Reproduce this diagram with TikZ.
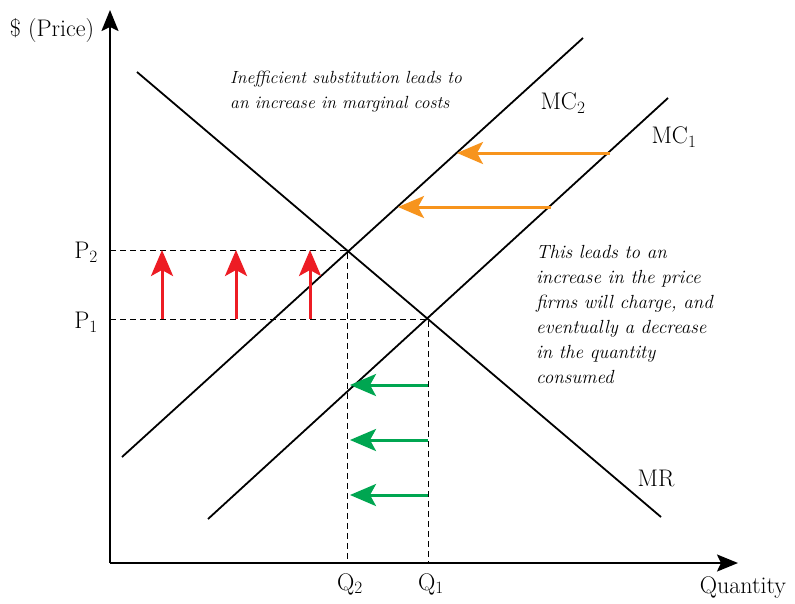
\documentclass[tikz,border=0pt]{standalone}
\usepackage{amsmath}
\usepackage{xcolor}
\usepackage{tikz}
\usetikzlibrary{arrows.meta}
\definecolor{shiftred}{RGB}{237,28,36}
\definecolor{shiftgreen}{RGB}{0,166,81}
\definecolor{shiftorange}{RGB}{247,148,29}
\tikzset{axis/.style = {line width=2pt, -{Stealth[length=21pt, width=17pt, inset=4pt]}},
         curve/.style = {line width=1.8pt},
         guide/.style = {line width=1pt, dash pattern=on 6pt off 4pt},
         shiftarrow/.style = {line width=3pt, -{Stealth[length=26pt, width=22pt, inset=6pt]}},
         lab/.style = {font=\fontsize{24}{28}\selectfont, inner sep=0pt},
         note/.style = {inner sep=0pt, align=left, anchor=north west}}

\begin{document}
\begin{tikzpicture}[x=1pt, y=-1pt]
\useasboundingbox (0,0) rectangle (795,603);
\coordinate (O) at (110,563);
\coordinate (ytip) at (110,10);
\coordinate (xtip) at (738,563);
\draw[axis] (O) -- (ytip);
\draw[axis] (O) -- (xtip);
\node[lab] (price) at (52,31) {\$ (Price)};
\node[lab] (quantity) at (743,588) {Quantity};
% curves
\coordinate (mr1) at (137,72);
\coordinate (mr2) at (661,517);
\coordinate (mcb1) at (122,457);
\coordinate (mcb2) at (583,38);
\coordinate (mca1) at (208,519);
\coordinate (mca2) at (668,98);
\draw[curve] (mr1) -- (mr2);
\draw[curve] (mcb1) -- (mcb2);
\draw[curve] (mca1) -- (mca2);
\node[lab] (mrlab) at (656,478) {MR};
\node[lab] (mc2lab) at (563,103) {MC$_2$};
\node[lab] (mc1lab) at (674,137) {MC$_1$};
% equilibria
\coordinate (e2) at (347,250);
\coordinate (e1) at (428,319);
\coordinate (p2) at (110,250);
\coordinate (p1) at (110,319);
\coordinate (q2) at (347,563);
\coordinate (q1) at (428,563);
\draw[guide] (p2) -- (e2) -- (q2);
\draw[guide] (p1) -- (e1) -- (q1);
\node[lab] (p2lab) at (86,252) {P$_2$};
\node[lab] (p1lab) at (86,322) {P$_1$};
\node[lab] (q2lab) at (350,584) {Q$_2$};
\node[lab] (q1lab) at (431,584) {Q$_1$};
% price rises
\foreach \x [count=\i] in {162,236,310} {
  \coordinate (ra\i) at (\x,319);
  \coordinate (rb\i) at (\x,250);
  \draw[shiftarrow, shiftred] (ra\i) -- (rb\i);
}
% quantity falls
\foreach \y [count=\i] in {385,440,495} {
  \coordinate (ga\i) at (428,\y);
  \coordinate (gb\i) at (350,\y);
  \draw[shiftarrow, shiftgreen] (ga\i) -- (gb\i);
}
% cost shift
\coordinate (oa1) at (610,153);
\coordinate (ob1) at (457,153);
\coordinate (oa2) at (551,207);
\coordinate (ob2) at (398,207);
\draw[shiftarrow, shiftorange] (oa1) -- (ob1);
\draw[shiftarrow, shiftorange] (oa2) -- (ob2);
% notes
\node[note, font=\fontsize{17.6}{25}\selectfont\itshape] (topnote) at (230,71)
  {Inefficient substitution leads to\\an increase in marginal costs};
\node[note, font=\fontsize{19}{25}\selectfont\itshape] (sidenote) at (536,245)
  {This leads to an\\increase in the price\\firms will charge, and\\eventually a decrease\\in the quantity\\consumed};
\end{tikzpicture}
\end{document}
